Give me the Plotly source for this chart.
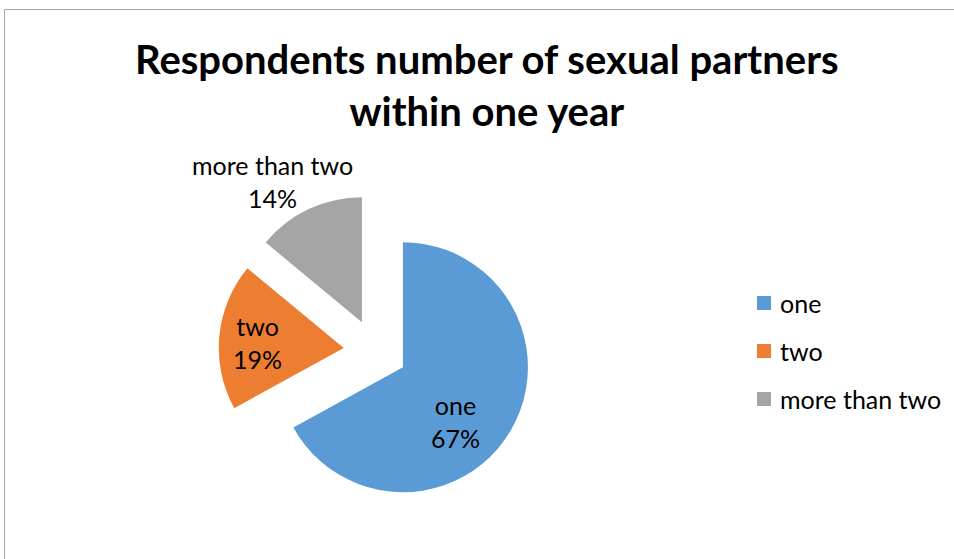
import math
import plotly.graph_objects as go

# Survey shares of respondents by number of sexual partners in one year
labels = ["one", "two", "more than two"]
values = [67, 19, 14]
colors = ["#5B9BD5", "#ED7D31", "#A5A5A5"]

W, H = 954, 559
FONT = "Lato, Open Sans, sans-serif"
TEXT = "#000000"

# pie geometry in pixels
cx, cy = 375.5, 351.0
pull = 0.255
radius = 125.0
half = radius * (1 + pull)


def px(x):
    return x / W


def py(y):
    return 1 - y / H


fig = go.Figure()
fig.add_trace(go.Pie(
    labels=labels,
    values=values,
    marker=dict(colors=colors, line=dict(width=0)),
    sort=False,
    direction="clockwise",
    rotation=0,
    pull=[pull] * len(values),
    textinfo="none",
    hoverinfo="label+percent",
    showlegend=False,
    domain=dict(x=[px(cx - half), px(cx + half)], y=[py(cy + half), py(cy - half)]),
))

# data labels: distance from pie centre and angular offset from slice mid-angle (deg)
label_dist = [106, 118, 198]
label_turn = [10.8, -1.5, -6.0]
total = sum(values)
start = 0.0
annotations = []
for lab, val, dist, turn in zip(labels, values, label_dist, label_turn):
    frac = val / total
    mid = (start + frac / 2) * 2 * math.pi + math.radians(turn)
    start += frac
    lx = cx + dist * math.sin(mid)
    ly = cy - dist * math.cos(mid)
    annotations.append(dict(
        x=px(lx), y=py(ly), xref="paper", yref="paper",
        text=f"{lab}<br>{round(100 * frac)}%", showarrow=False,
        font=dict(family=FONT, size=25, color=TEXT),
        align="center", xanchor="center", yanchor="middle",
    ))

# legend drawn as swatches and text
shapes = []
leg_x, leg_y0, leg_step, sw = 757, 303, 48, 14
for i, (lab, col) in enumerate(zip(labels, colors)):
    yy = leg_y0 + i * leg_step
    shapes.append(dict(
        type="rect", xref="paper", yref="paper",
        x0=px(leg_x), x1=px(leg_x + sw), y0=py(yy + sw / 2), y1=py(yy - sw / 2),
        fillcolor=col, line=dict(width=0),
    ))
    annotations.append(dict(
        x=px(leg_x + sw + 7), y=py(yy), xref="paper", yref="paper",
        text=lab, showarrow=False, xanchor="left", yanchor="middle",
        font=dict(family=FONT, size=25, color=TEXT),
    ))

# chart area border
shapes.append(dict(
    type="rect", xref="paper", yref="paper",
    x0=px(4.5), x1=px(970), y0=py(580), y1=py(9.5),
    line=dict(color="#A6A6A6", width=1), fillcolor="rgba(0,0,0,0)", layer="below",
))

# title
annotations.append(dict(
    x=px(487), y=py(85), xref="paper", yref="paper",
    text="<b>Respondents number of sexual partners<br>within one year</b>",
    showarrow=False, xanchor="center", yanchor="middle", align="center",
    font=dict(family=FONT, size=40, color=TEXT),
))

fig.update_layout(
    width=W, height=H, autosize=False,
    margin=dict(l=0, r=0, t=0, b=0),
    paper_bgcolor="white", plot_bgcolor="white",
    shapes=shapes, annotations=annotations,
    showlegend=False,
)

fig.write_html("out.html")
